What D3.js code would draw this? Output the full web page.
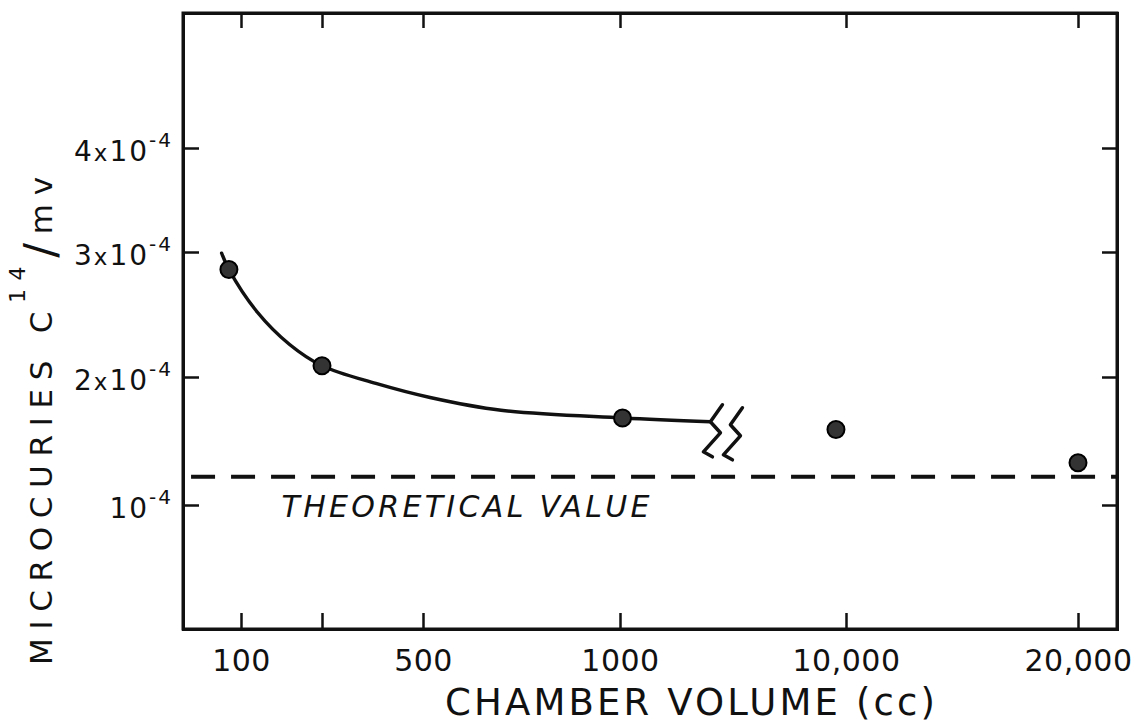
<!DOCTYPE html>
<html>
<head>
<meta charset="utf-8">
<script src="https://cdn.jsdelivr.net/npm/d3@7/dist/d3.min.js"></script>
<style>
  body { margin: 0; background: #fff; }
  svg { display: block; }
  text { font-family: "DejaVu Sans", sans-serif; fill: #111; }
  .axis path, .axis line { stroke: #111; }
</style>
</head>
<body>
<svg width="1137" height="725"></svg>
<script>
// measured points: chamber volume (cc) and microcuries C14/mv in units of 1e-4
var volumes = [85, 200, 1100, 9600, 20000];
var values  = [2.86, 2.09, 1.68, 1.59, 1.33];

// hand drawn curve through the small chambers, stops at the axis break
var curveVolumes = [76, 85, 120, 160, 200, 360, 518, 698, 1100, 4600];
var curveValues  = [2.99, 2.86, 2.52, 2.26, 2.09, 1.95, 1.84, 1.74, 1.68, 1.65];

var theoretical = 1.22;

var xTicks      = [100, 200, 500, 1000, 10000, 20000];
var xTickLabels = ["100", "", "500", "1000", "10,000", "20,000"];
var yTicks      = [1, 2, 3, 4];
var yTickCoef   = ["", "2", "3", "4"];

var svg = d3.select("svg");
var margin = { top: 13, right: 20, bottom: 96, left: 183 },
    width = +svg.attr("width") - margin.left - margin.right,
    height = +svg.attr("height") - margin.top - margin.bottom;
var g = svg.append("g").attr("transform", "translate(" + margin.left + "," + margin.top + ")");

// the original axis is drawn by hand and broken, so piecewise scales
var xScale = d3.scaleLinear()
    .domain([28, 100, 200, 500, 1000, 10000, 20000, 21700])
    .range([0, 58, 139, 240, 437, 663, 895, width]);

var yScale = d3.scaleLinear()
    .domain([0, 1, 2, 3, 4, 5.3])
    .range([height, height - 124, height - 252, height - 377, height - 481, 0]);

// frame
g.append("rect")
    .attr("width", width)
    .attr("height", height)
    .attr("fill", "none")
    .attr("stroke", "#111")
    .attr("stroke-width", 3);

// axes, ticks pointing inwards
var xAxis = g.append("g")
    .attr("class", "axis")
    .attr("transform", "translate(0," + height + ")")
    .call(d3.axisBottom(xScale)
        .tickValues(xTicks)
        .tickSize(-16)
        .tickPadding(21)
        .tickFormat(function(d, i) { return xTickLabels[i]; }));
xAxis.selectAll("text")
    .attr("font-size", 30)
    .attr("letter-spacing", 0.5)
    .style("font-family", "DejaVu Sans");

g.append("g")
    .attr("class", "axis")
    .call(d3.axisTop(xScale).tickValues(xTicks).tickSize(-15).tickFormat(""));

var yAxis = g.append("g")
    .attr("class", "axis")
    .call(d3.axisLeft(yScale)
        .tickValues(yTicks)
        .tickSize(-16)
        .tickPadding(10)
        .tickFormat(""));

g.append("g")
    .attr("class", "axis")
    .attr("transform", "translate(" + width + ",0)")
    .call(d3.axisRight(yScale).tickValues(yTicks).tickSize(-15).tickFormat(""));

g.selectAll(".axis path").attr("stroke-width", 3);
g.selectAll(".axis line").attr("stroke-width", 2.5);

// y tick labels like 4x10^-4
yAxis.selectAll(".tick").each(function(d, i) {
    var t = d3.select(this).append("text")
        .attr("x", -10)
        .attr("dy", "0.43em")
        .attr("text-anchor", "end")
        .attr("fill", "#111")
        .attr("font-size", 28)
        .attr("letter-spacing", 2)
        .style("font-family", "DejaVu Sans");
    if (yTickCoef[i]) {
        t.append("tspan").text(yTickCoef[i]);
        t.append("tspan").attr("font-size", 23).text("x");
    }
    t.append("tspan").text("10");
    t.append("tspan").attr("font-size", 20).attr("dy", -14).text("-4");
});

// axis titles
svg.append("text")
    .attr("x", 690)
    .attr("y", 715)
    .attr("text-anchor", "middle")
    .attr("font-size", 37)
    .attr("textLength", 490)
    .attr("lengthAdjust", "spacing")
    .text("CHAMBER VOLUME (cc)");

var yTitle = svg.append("text")
    .attr("transform", "translate(52,665) rotate(-90)")
    .attr("font-size", 31)
    .attr("textLength", 488)
    .attr("lengthAdjust", "spacing");
yTitle.append("tspan").text("MICROCURIES C");
yTitle.append("tspan").attr("font-size", 22).attr("dy", -27).text("14");
yTitle.append("tspan").attr("font-size", 44).attr("dy", 31).text("/");
yTitle.append("tspan").attr("dy", -4).text("mv");

// theoretical value
g.append("line")
    .attr("x1", xScale(38))
    .attr("x2", width)
    .attr("y1", yScale(theoretical))
    .attr("y2", yScale(theoretical))
    .attr("stroke", "#111")
    .attr("stroke-width", 4)
    .attr("stroke-dasharray", "24,16");

g.append("text")
    .attr("x", xScale(150))
    .attr("y", yScale(theoretical) + 40)
    .attr("font-size", 30)
    .attr("font-style", "italic")
    .attr("textLength", 368)
    .attr("lengthAdjust", "spacing")
    .text("THEORETICAL VALUE");

// fitted curve
var curveData = curveVolumes.map(function(v, i) { return { x: v, y: curveValues[i] }; });
g.append("path")
    .datum(curveData)
    .attr("fill", "none")
    .attr("stroke", "#111")
    .attr("stroke-width", 3.5)
    .attr("stroke-linecap", "round")
    .attr("d", d3.line()
        .curve(d3.curveCatmullRom.alpha(0.5))
        .x(function(d) { return xScale(d.x); })
        .y(function(d) { return yScale(d.y); }));

// axis break marks at the end of the curve
var last = curveData[curveData.length - 1];
var zig = [[12, -17], [0, 0], [10, 11], [-7, 30], [2, 35]];
[0, 1].forEach(function(k) {
    g.append("path")
        .attr("fill", "none")
        .attr("stroke", "#111")
        .attr("stroke-width", 3.5)
        .attr("stroke-linejoin", "round")
        .attr("stroke-linecap", "round")
        .attr("d", d3.line()
            .x(function(p) { return xScale(last.x) + p[0] + k * 20; })
            .y(function(p) { return yScale(last.y) + p[1] + k * 3; })(zig));
});

// points
var pts = volumes.map(function(v, i) { return { x: v, y: values[i] }; });
g.selectAll("circle.pt")
    .data(pts)
    .enter()
    .append("circle")
        .attr("class", "pt")
        .attr("cx", function(d) { return xScale(d.x); })
        .attr("cy", function(d) { return yScale(d.y); })
        .attr("r", 8.5)
        .attr("fill", "#333")
        .attr("stroke", "#000")
        .attr("stroke-width", 2);
</script>
</body>
</html>
